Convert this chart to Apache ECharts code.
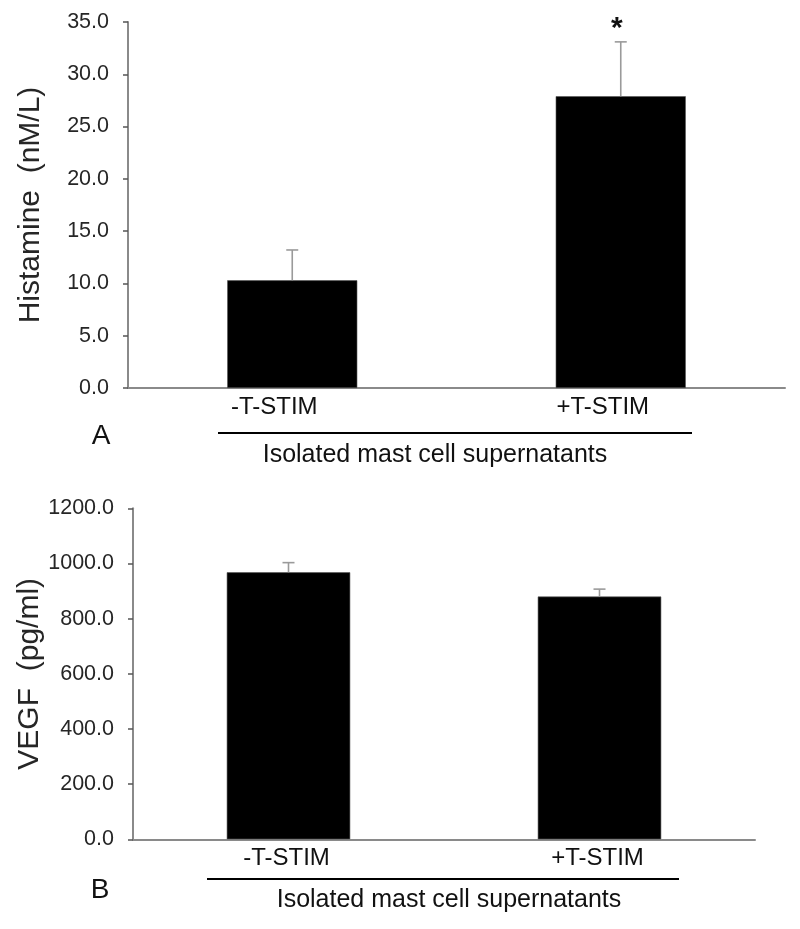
<!DOCTYPE html>
<html>
<head>
<meta charset="utf-8">
<script src="https://cdn.jsdelivr.net/npm/echarts@6/dist/echarts.min.js"></script>
<style>
html,body{margin:0;padding:0;background:#fff;}
#chart{width:800px;height:929px;}
</style>
</head>
<body>
<div id="chart"></div>
<script>
// ---- data ----
const categories = ['-T-STIM', '+T-STIM'];
const histMean = [10.3, 27.9];
const histErr = [2.9, 5.2];
const histSig = ['', '*'];
const vegfMean = [968, 880];
const vegfErr = [35, 27];
const vegfSig = ['', ''];
const histTicks = { min: 0, max: 35, interval: 5 };
const vegfTicks = { min: 0, max: 1200, interval: 200 };
const groupLabel = 'Isolated mast cell supernatants';

const FONT = "'Liberation Sans', Arial, sans-serif";
const AXIS_GRAY = '#8a8a8a';
const TEXT = '#262626';

function errRender(sig) {
  return function (params, api) {
    const i = api.value(0);
    const m = api.value(1);
    const e = api.value(2);
    const base = api.coord([i, m]);
    const top = api.coord([i, m + e]);
    const w = 6;
    const style = { stroke: '#9a9a9a', lineWidth: 1.6 };
    const children = [
      { type: 'line', shape: { x1: base[0], y1: base[1], x2: top[0], y2: top[1] }, style: style },
      { type: 'line', shape: { x1: top[0] - w, y1: top[1], x2: top[0] + w, y2: top[1] }, style: style }
    ];
    if (sig[params.dataIndex]) {
      children.push({
        type: 'text',
        style: {
          text: sig[params.dataIndex], x: top[0] - 4, y: top[1] + 2,
          align: 'center', verticalAlign: 'bottom',
          font: 'bold 30px ' + FONT, fill: '#111'
        }
      });
    }
    return { type: 'group', children: children };
  };
}

function yAxisCfg(grid, t, name, gap) {
  return {
    type: 'value', gridIndex: grid, min: t.min, max: t.max, interval: t.interval,
    name: name, nameLocation: 'middle', nameRotate: 90, nameGap: gap,
    nameMoveOverlap: false,
    nameTextStyle: { fontFamily: FONT, fontSize: 30, color: TEXT },
    axisLine: { show: true, lineStyle: { color: AXIS_GRAY, width: 2 } },
    axisTick: { show: true, inside: false, length: 5, lineStyle: { color: '#555', width: 1.5 } },
    axisLabel: { fontFamily: FONT, fontSize: 21.5, color: TEXT, margin: 19,
      formatter: v => v.toFixed(1) },
    splitLine: { show: false }
  };
}

function xAxisCfg(grid, pad) {
  return {
    type: 'category', gridIndex: grid, data: categories,
    axisLine: { show: true, lineStyle: { color: AXIS_GRAY, width: 2 } },
    axisTick: { show: false },
    axisLabel: { fontFamily: FONT, fontSize: 24, color: '#111', margin: 7, padding: pad }
  };
}

const chart = echarts.init(document.getElementById('chart'), null, { renderer: 'canvas' });
chart.setOption({
  animation: false,
  backgroundColor: '#fff',
  grid: [
    { left: 128, right: 15, top: 22, height: 366 },
    { left: 133, right: 45, top: 508.3, height: 331 }
  ],
  xAxis: [xAxisCfg(0, [0, 36, 0, 0]), xAxisCfg(1, [0, 4, 0, 0])],
  yAxis: [
    yAxisCfg(0, histTicks, 'Histamine  (nM/L)', 82),
    yAxisCfg(1, vegfTicks, 'VEGF  (pg/ml)', 88)
  ],
  series: [
    { type: 'bar', xAxisIndex: 0, yAxisIndex: 0, data: histMean, barWidth: '39.6%',
      itemStyle: { color: '#000', borderColor: '#555', borderWidth: 0.6 } },
    { type: 'custom', xAxisIndex: 0, yAxisIndex: 0, renderItem: errRender(histSig),
      data: categories.map((c, i) => [i, histMean[i], histErr[i]]), z: 3 },
    { type: 'bar', xAxisIndex: 1, yAxisIndex: 1, data: vegfMean, barWidth: '39.7%',
      itemStyle: { color: '#000', borderColor: '#555', borderWidth: 0.6 } },
    { type: 'custom', xAxisIndex: 1, yAxisIndex: 1, renderItem: errRender(vegfSig),
      data: categories.map((c, i) => [i, vegfMean[i], vegfErr[i]]), z: 3 }
  ],
  graphic: [
    { type: 'line', shape: { x1: 218, y1: 433, x2: 692, y2: 433 }, style: { stroke: '#000', lineWidth: 2.2 } },
    { type: 'text', x: 435, y: 455, style: { text: groupLabel, font: '25px ' + FONT, fill: '#111', align: 'center', verticalAlign: 'middle' } },
    { type: 'text', x: 101, y: 436, style: { text: 'A', font: '28px ' + FONT, fill: '#111', align: 'center', verticalAlign: 'middle' } },
    { type: 'line', shape: { x1: 207, y1: 879, x2: 679, y2: 879 }, style: { stroke: '#000', lineWidth: 2.2 } },
    { type: 'text', x: 449, y: 900, style: { text: groupLabel, font: '25px ' + FONT, fill: '#111', align: 'center', verticalAlign: 'middle' } },
    { type: 'text', x: 100, y: 890, style: { text: 'B', font: '28px ' + FONT, fill: '#111', align: 'center', verticalAlign: 'middle' } }
  ]
});
</script>
</body>
</html>
